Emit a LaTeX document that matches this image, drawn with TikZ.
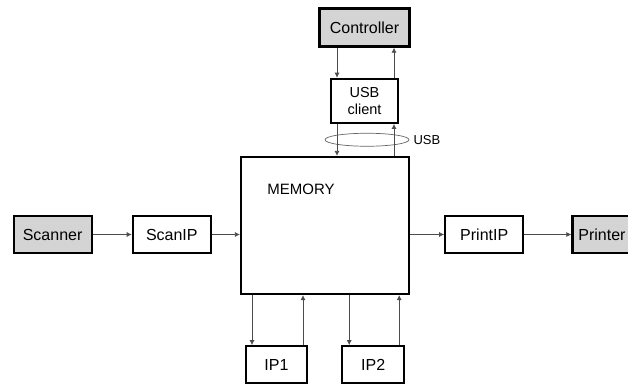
\documentclass[tikz,border=0pt]{standalone}
\usepackage{fontspec}
\setmainfont{Liberation Sans}
\usetikzlibrary{positioning,shapes.geometric,arrows.meta,calc}

\begin{document}
\begin{tikzpicture}[
    node distance=30pt,
    unitbox/.style={draw=black, line width=2.2pt, inner sep=2pt, minimum height=37pt, font=\fontsize{16}{18}\selectfont},
    devbox/.style={unitbox, fill=black!17},
    link/.style={draw=black!70, line width=0.7pt, -{Latex[length=5pt,width=5pt]}},
    ring/.style={ellipse, draw=black!60, line width=0.7pt, minimum width=84pt, minimum height=13pt, inner sep=0pt}
  ]
    \useasboundingbox (0,0) rectangle (628pt,-385pt);

    \node (memory) [unitbox, minimum width=168pt, minimum height=137pt] at (325pt,-225.5pt) {};
    \node (memlabel) [anchor=west, font=\fontsize{15}{17}\selectfont] at ($(memory.north west)+(24pt,-33pt)$) {MEMORY};

    \node (scanip) [left=28pt of memory, yshift=-9pt, unitbox, minimum width=78pt] {ScanIP};
    \node (scanner) [left=39pt of scanip, devbox, minimum width=78pt] {Scanner};

    \node (printip) [right=34pt of memory, yshift=-9pt, unitbox, minimum width=78pt] {PrintIP};
    \node (printer) [right=47pt of printip, devbox, inner xsep=6pt, text width=62pt, align=left] {Printer};

    \node (usbclient) [above=32pt of memory, xshift=39.5pt, unitbox, minimum width=67pt, minimum height=44pt, align=center, font=\fontsize{14.5}{17}\selectfont] {USB\\client};
    \node (controller) [above=30pt of usbclient, devbox, minimum width=90pt, minimum height=38pt] {Controller};

    \node (usbring) [below=9pt of usbclient, xshift=2.5pt, ring] {};
    \node (usblabel) [right=3pt of usbring, inner sep=1pt, font=\fontsize{13}{15}\selectfont] {USB};

    \node (ipone) [below=50pt of memory, xshift=-48.5pt, unitbox, minimum width=61pt] {IP1};
    \node (iptwo) [right=33pt of ipone, unitbox, minimum width=62pt] {IP2};

    \draw[link] (scanner.east) -- (scanip.west);
    \draw[link] (scanip.east) -- (scanip.east -| memory.west);
    \draw[link] (printip.west -| memory.east) -- (printip.west);
    \draw[link] (printip.east) -- (printer.west);

    \draw[link] ([xshift=-27.5pt]controller.south -| usbclient.south) -- ([xshift=-27.5pt]usbclient.north);
    \draw[link] ([xshift=29.5pt]usbclient.north) -- ([xshift=29.5pt]usbclient.north |- controller.south);
    \draw[link] ([xshift=-27.5pt]usbclient.south) -- ([xshift=-27.5pt]usbclient.south |- memory.north);
    \draw[link] ([xshift=29.5pt]usbclient.south |- memory.north) -- ([xshift=29.5pt]usbclient.south);

    \draw[link] ([xshift=-24.5pt]ipone.north |- memory.south) -- ([xshift=-24.5pt]ipone.north);
    \draw[link] ([xshift=26.5pt]ipone.north) -- ([xshift=26.5pt]ipone.north |- memory.south);
    \draw[link] ([xshift=-24pt]iptwo.north |- memory.south) -- ([xshift=-24pt]iptwo.north);
    \draw[link] ([xshift=26pt]iptwo.north) -- ([xshift=26pt]iptwo.north |- memory.south);
  \end{tikzpicture}
\end{document}
